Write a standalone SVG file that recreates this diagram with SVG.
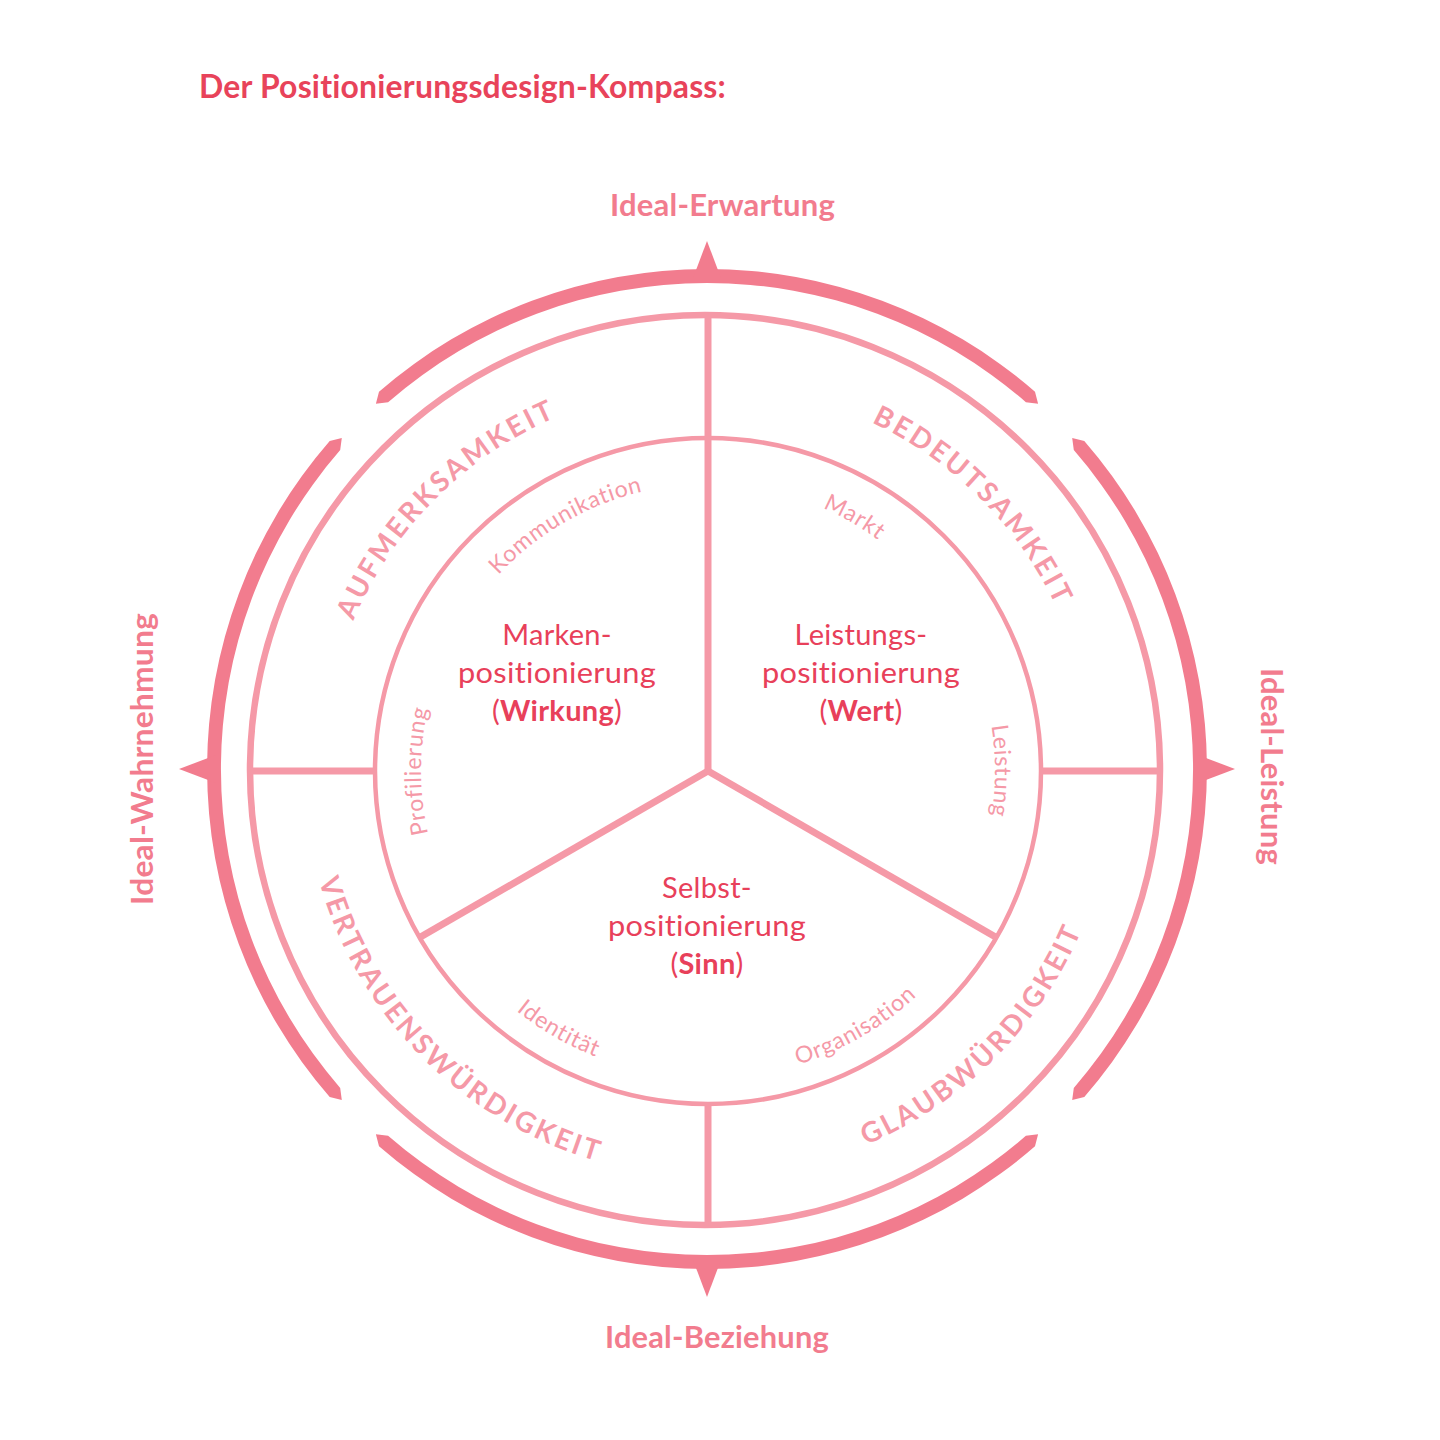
<svg xmlns="http://www.w3.org/2000/svg" xmlns:xlink="http://www.w3.org/1999/xlink" width="1440" height="1440" viewBox="0 0 1440 1440">
<style>
text{font-variant-ligatures:none;font-feature-settings:"liga" 0,"clig" 0,"dlig" 0;}
.thick{fill:#F27C8E;}
.thin{fill:none;stroke:#F599A7;}
.ideal{font-family:Lato,"Liberation Sans",sans-serif;font-weight:700;font-size:30px;fill:#F27C8E;letter-spacing:0.2px;}
.title{font-family:Lato,"Liberation Sans",sans-serif;font-weight:700;font-size:32px;fill:#E8435A;letter-spacing:0.2px;}
.center{font-family:Lato,"Liberation Sans",sans-serif;font-weight:400;font-size:29px;fill:#E8405A;text-anchor:middle;letter-spacing:0.3px;}
.big{font-family:Lato,"Liberation Sans",sans-serif;font-weight:700;font-size:28px;fill:#F599A7;letter-spacing:2.8px;}
.small{font-family:Lato,"Liberation Sans",sans-serif;font-weight:400;font-size:23px;fill:#F599A7;letter-spacing:0.8px;}
</style>
<defs>
<path id="arcTop" d="M379.0,391.7 A500,500 0 0 1 1035.0,391.7 L1038.1,403.8 L1025.9,402.2 A486,486 0 0 0 388.1,402.2 L375.9,403.8 Z"/>
<polygon id="triTop" points="707,241 693,278 721,278"/>
<path id="pAuf" d="M328.8,704.2 A385,385 0 0 1 641.2,391.8"/>
<path id="pBed" d="M774.8,391.8 A385,385 0 0 1 1087.2,704.2"/>
<path id="pVer" d="M305.5,806.2 A406,406 0 0 0 672.8,1175.5"/>
<path id="pGla" d="M743.2,1175.5 A406,406 0 0 0 1112.5,806.2"/>
<path id="pKom" d="M459.5,627.5 A287,287 0 0 1 708,484"/>
<path id="pMar" d="M708,484 A287,287 0 0 1 956.5,627.5"/>
<path id="pPro" d="M459.5,914.5 A287,287 0 0 1 459.5,627.5"/>
<path id="pLei" d="M956.5,627.5 A287,287 0 0 1 956.5,914.5"/>
<path id="pIde" d="M442.1,924.5 A307,307 0 0 0 708,1078"/>
<path id="pOrg" d="M708,1078 A307,307 0 0 0 973.9,924.5"/>
</defs>

<g id="title">
<text class="title" x="199" y="98" textLength="527" lengthAdjust="spacingAndGlyphs">Der Positionierungsdesign-Kompass:</text>
</g>

<g id="compass-ring">
<use xlink:href="#arcTop" class="thick"/>
<use xlink:href="#arcTop" class="thick" transform="rotate(90 707 769)"/>
<use xlink:href="#arcTop" class="thick" transform="rotate(180 707 769)"/>
<use xlink:href="#arcTop" class="thick" transform="rotate(270 707 769)"/>
<use xlink:href="#triTop" class="thick"/>
<use xlink:href="#triTop" class="thick" transform="rotate(90 707 769)"/>
<use xlink:href="#triTop" class="thick" transform="rotate(180 707 769)"/>
<use xlink:href="#triTop" class="thick" transform="rotate(270 707 769)"/>
</g>

<g id="ideal-labels">
<text class="ideal" x="610" y="216" textLength="225" lengthAdjust="spacingAndGlyphs">Ideal-Erwartung</text>
<text class="ideal" x="605" y="1348" textLength="224" lengthAdjust="spacingAndGlyphs">Ideal-Beziehung</text>
<text class="ideal" transform="translate(153 905) rotate(-90)" textLength="292" lengthAdjust="spacingAndGlyphs">Ideal-Wahrnehmung</text>
<text class="ideal" transform="translate(1261 668) rotate(90)" textLength="197" lengthAdjust="spacingAndGlyphs">Ideal-Leistung</text>
</g>

<g id="connectors">
<circle class="thin" cx="705" cy="770" r="455" stroke-width="6.5"/>
<circle class="thin" cx="708" cy="771" r="333" stroke-width="4.5"/>
<line class="thin" x1="708" y1="316" x2="708" y2="771" stroke-width="7"/>
<line class="thin" x1="708" y1="771" x2="419.6" y2="937.5" stroke-width="7"/>
<line class="thin" x1="708" y1="771" x2="996.4" y2="937.5" stroke-width="7"/>
<line class="thin" x1="708" y1="1104" x2="708" y2="1225" stroke-width="7"/>
<line class="thin" x1="249" y1="771" x2="375" y2="771" stroke-width="7"/>
<line class="thin" x1="1041" y1="771" x2="1160" y2="771" stroke-width="7"/>
</g>

<g id="outer-labels">
<text class="big"><textPath xlink:href="#pAuf" startOffset="50%" text-anchor="middle">AUFMERKSAMKEIT</textPath></text>
<text class="big"><textPath xlink:href="#pBed" startOffset="50%" text-anchor="middle">BEDEUTSAMKEIT</textPath></text>
<text class="big"><textPath xlink:href="#pVer" startOffset="50%" text-anchor="middle">VERTRAUENSWÜRDIGKEIT</textPath></text>
<text class="big"><textPath xlink:href="#pGla" startOffset="50%" text-anchor="middle">GLAUBWÜRDIGKEIT</textPath></text>
</g>

<g id="inner-labels">
<text class="small"><textPath xlink:href="#pKom" startOffset="50%" text-anchor="middle">Kommunikation</textPath></text>
<text class="small"><textPath xlink:href="#pMar" startOffset="50%" text-anchor="middle">Markt</textPath></text>
<text class="small"><textPath xlink:href="#pPro" startOffset="50%" text-anchor="middle">Profilierung</textPath></text>
<text class="small"><textPath xlink:href="#pLei" startOffset="50%" text-anchor="middle">Leistung</textPath></text>
<text class="small"><textPath xlink:href="#pIde" startOffset="50%" text-anchor="middle">Identität</textPath></text>
<text class="small"><textPath xlink:href="#pOrg" startOffset="50%" text-anchor="middle">Organisation</textPath></text>
</g>

<g id="node-marken">
<text class="center" x="557" y="645">Marken-</text>
<text class="center" x="557" y="683" textLength="198" lengthAdjust="spacingAndGlyphs">positionierung</text>
<text class="center" x="557" y="721">(<tspan font-weight="700">Wirkung</tspan>)</text>
</g>
<g id="node-leistung">
<text class="center" x="861" y="645">Leistungs-</text>
<text class="center" x="861" y="683" textLength="198" lengthAdjust="spacingAndGlyphs">positionierung</text>
<text class="center" x="861" y="721">(<tspan font-weight="700">Wert</tspan>)</text>
</g>
<g id="node-selbst">
<text class="center" x="707" y="898">Selbst-</text>
<text class="center" x="707" y="936" textLength="198" lengthAdjust="spacingAndGlyphs">positionierung</text>
<text class="center" x="707" y="974">(<tspan font-weight="700">Sinn</tspan>)</text>
</g>
</svg>
